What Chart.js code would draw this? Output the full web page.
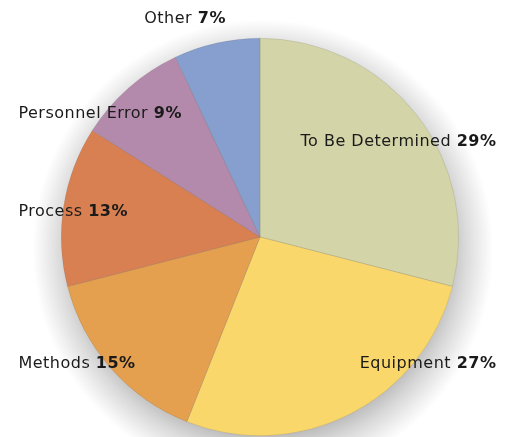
<!DOCTYPE html>
<html>
<head>
<meta charset="utf-8">
<script src="https://cdn.jsdelivr.net/npm/chart.js@4/dist/chart.umd.min.js"></script>
<style>
	html, body { margin: 0; padding: 0; background: #fff; }
	#wrap { width: 515px; height: 437px; position: relative; }
</style>
</head>
<body>
<div id="wrap"><canvas id="pie-chart"></canvas></div>
<script>
// root cause categories and their share (%)
var categories = ["To Be Determined", "Equipment", "Methods", "Process", "Personnel Error", "Other"];
var shares = [29, 27, 15, 13, 9, 7];
var sliceColors = ["#d3d4a7", "#fad76b", "#e5a04f", "#d98052", "#b38aab", "#879fcf"];

// soft halo under the pie
var haloPlugin = {
	id: 'halo',
	beforeDatasetsDraw: function(chart){
		var arc = chart.getDatasetMeta(0).data[0];
		if (!arc) return;
		var ctx = chart.ctx;
		var r = arc.outerRadius;
		var cx = arc.x + r * 0.015, cy = arc.y + r * 0.065;
		var g = ctx.createRadialGradient(cx, cy, r * 0.9, cx, cy, r * 1.16);
		g.addColorStop(0, 'rgba(0,0,0,0.30)');
		g.addColorStop(0.45, 'rgba(0,0,0,0.15)');
		g.addColorStop(0.8, 'rgba(0,0,0,0.05)');
		g.addColorStop(1, 'rgba(0,0,0,0)');
		ctx.save();
		ctx.fillStyle = g;
		ctx.beginPath();
		ctx.arc(cx, cy, r * 1.16, 0, Math.PI * 2);
		ctx.fill();
		ctx.restore();
	}
};

// "Name NN%" labels, name regular and value bold
var labelPlugin = {
	id: 'sliceLabels',
	afterDatasetsDraw: function(chart, args, opts){
		var meta = chart.getDatasetMeta(0);
		var ctx = chart.ctx;
		var font = opts.family;
		ctx.save();
		ctx.textBaseline = 'middle';
		ctx.fillStyle = '#1a1a1a';
		ctx.letterSpacing = opts.spacing;
		meta.data.forEach(function(arc, i){
			var r = arc.outerRadius;
			var name = categories[i] + ' ';
			var val = shares[i] + '%';
			ctx.font = opts.size + 'px ' + font;
			var w1 = ctx.measureText(name).width;
			ctx.font = 'bold ' + opts.size + 'px ' + font;
			var w2 = ctx.measureText(val).width;
			var p = opts.place[i];
			var y = arc.y + p[1] * r;
			var x;
			if (p[0] > 0) x = arc.x + p[0] * r - w1 - w2;   // right edge anchored
			else if (p[0] < -1.1) x = arc.x + p[0] * r;     // left edge anchored
			else x = arc.x + p[0] * r - (w1 + w2) / 2;       // centred
			ctx.font = opts.size + 'px ' + font;
			ctx.textAlign = 'left';
			ctx.fillText(name, x, y);
			ctx.font = 'bold ' + opts.size + 'px ' + font;
			ctx.fillText(val, x + w1, y);
		});
		ctx.restore();
	}
};

var context = document.getElementById('pie-chart').getContext('2d');
var chart = new Chart(context, {
	type: 'pie',
	data: {
		labels: categories,
		datasets: [{
			data: shares,
			backgroundColor: sliceColors,
			borderColor: 'rgba(90,90,90,0.25)',
			borderWidth: 0.6
		}]
	},
	options: {
		responsive: true,
		maintainAspectRatio: false,
		animation: false,
		layout: { padding: { left: 61, right: 56, top: 38, bottom: 1 } },
		plugins: {
			legend: { display: false },
			tooltip: { enabled: false },
			sliceLabels: {
				family: '"DejaVu Sans", sans-serif',
				size: 16,
				spacing: '0.5px',
				place: [[1.19, -0.477], [1.19, 0.638], [-1.216, 0.638], [-1.216, -0.126], [-1.216, -0.618], [-0.377, -1.10]]
			}
		}
	},
	plugins: [haloPlugin, labelPlugin]
});
</script>
</body>
</html>
